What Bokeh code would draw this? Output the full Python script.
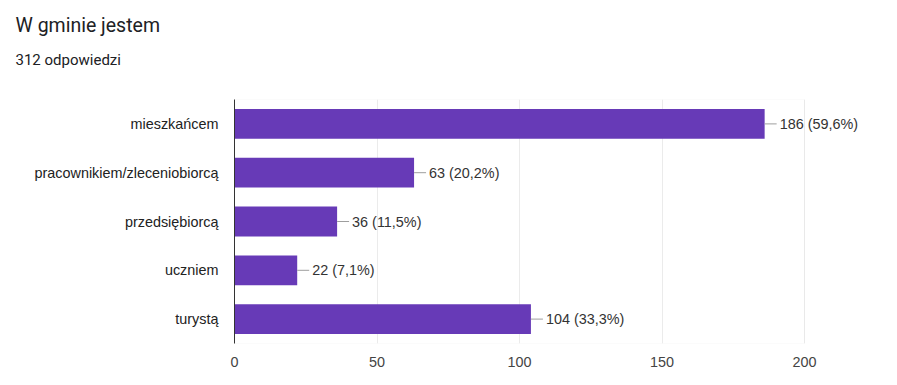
from bokeh.plotting import figure
from bokeh.layouts import column
from bokeh.models import Label, LabelSet, FactorRange, ColumnDataSource, BoxAnnotation
from bokeh.core.properties import value
from bokeh.embed import file_html
from bokeh.resources import INLINE

title_text = "W gminie jestem"
subtitle_text = "312 odpowiedzi"
categories = ["mieszkańcem", "pracownikiem/zleceniobiorcą", "przedsiębiorcą", "uczniem", "turystą"]
counts = [186, 63, 36, 22, 104]
labels = ["186 (59,6%)", "63 (20,2%)", "36 (11,5%)", "22 (7,1%)", "104 (33,3%)"]
x_ticks = [0, 50, 100, 150, 200]

FONT = "Liberation Sans"
FS = "14.4px"

# header with title and subtitle
h = figure(width=881, height=98, output_backend="svg", toolbar_location=None,
           x_range=(0, 1), y_range=(0, 1), min_border=0)
h.frame_align = False
h.axis.visible = False
h.grid.visible = False
h.outline_line_color = None
h.add_layout(Label(x=15, y=73, x_units="screen", y_units="screen", text=title_text,
                   text_font="Roboto", text_font_size="19.5px", text_color="#202124",
                   text_baseline="alphabetic"))
h.add_layout(Label(x=15, y=39, x_units="screen", y_units="screen", text=subtitle_text,
                   text_font="Roboto", text_font_size="15px", text_color="#202124",
                   text_baseline="alphabetic"))

src = ColumnDataSource(dict(cat=categories, n=counts, lab=labels))

p = figure(width=881, height=271, output_backend="svg", toolbar_location=None,
           y_range=FactorRange(*reversed(categories), range_padding=0),
           x_range=(0, 227),
           min_border_left=234, min_border_right=0, min_border_top=1, min_border_bottom=26)
p.frame_align = False
p.background_fill_color = "white"
p.border_fill_color = "white"
p.outline_line_color = None

p.xgrid.grid_line_color = "#ebebeb"
p.xgrid.minor_grid_line_color = "#f2f2f2"
p.xaxis.ticker = x_ticks
p.xaxis.ticker.num_minor_ticks = 2
p.xgrid.bounds = (0, 200)
p.ygrid.grid_line_color = None

p.add_layout(BoxAnnotation(left=0, right=200, fill_alpha=0, line_color="#e6e6e6", line_width=1,
                           level="underlay"))

p.hbar(y="cat", right="n", left=0, height=0.61, source=src, fill_color="#673ab7", line_color=None)
p.ray(x="n", y="cat", length=12, length_units="screen", angle=0, source=src,
      line_color="#9e9e9e", line_width=1)
p.add_layout(LabelSet(x="n", y="cat", text="lab", source=src, x_offset=15, text_baseline="middle",
                      text_font=value(FONT), text_font_size=value(FS),
                      text_color=value("#333333")))

p.xaxis.bounds = (0, 200)
p.xaxis.axis_line_color = None
p.xaxis.major_tick_line_color = None
p.xaxis.minor_tick_line_color = None
p.xaxis.major_label_standoff = 7
p.xaxis.major_label_text_font = FONT
p.xaxis.major_label_text_font_size = FS
p.xaxis.major_label_text_color = "#444444"

p.yaxis.axis_line_color = "#333333"
p.yaxis.axis_line_width = 1
p.yaxis.major_tick_line_color = None
p.yaxis.minor_tick_line_color = None
p.yaxis.major_label_standoff = 10
p.yaxis.major_label_text_font = FONT
p.yaxis.major_label_text_font_size = FS
p.yaxis.major_label_text_color = "#222222"

layout = column(h, p, spacing=0)
open("out.html", "w").write(file_html(layout, INLINE))
